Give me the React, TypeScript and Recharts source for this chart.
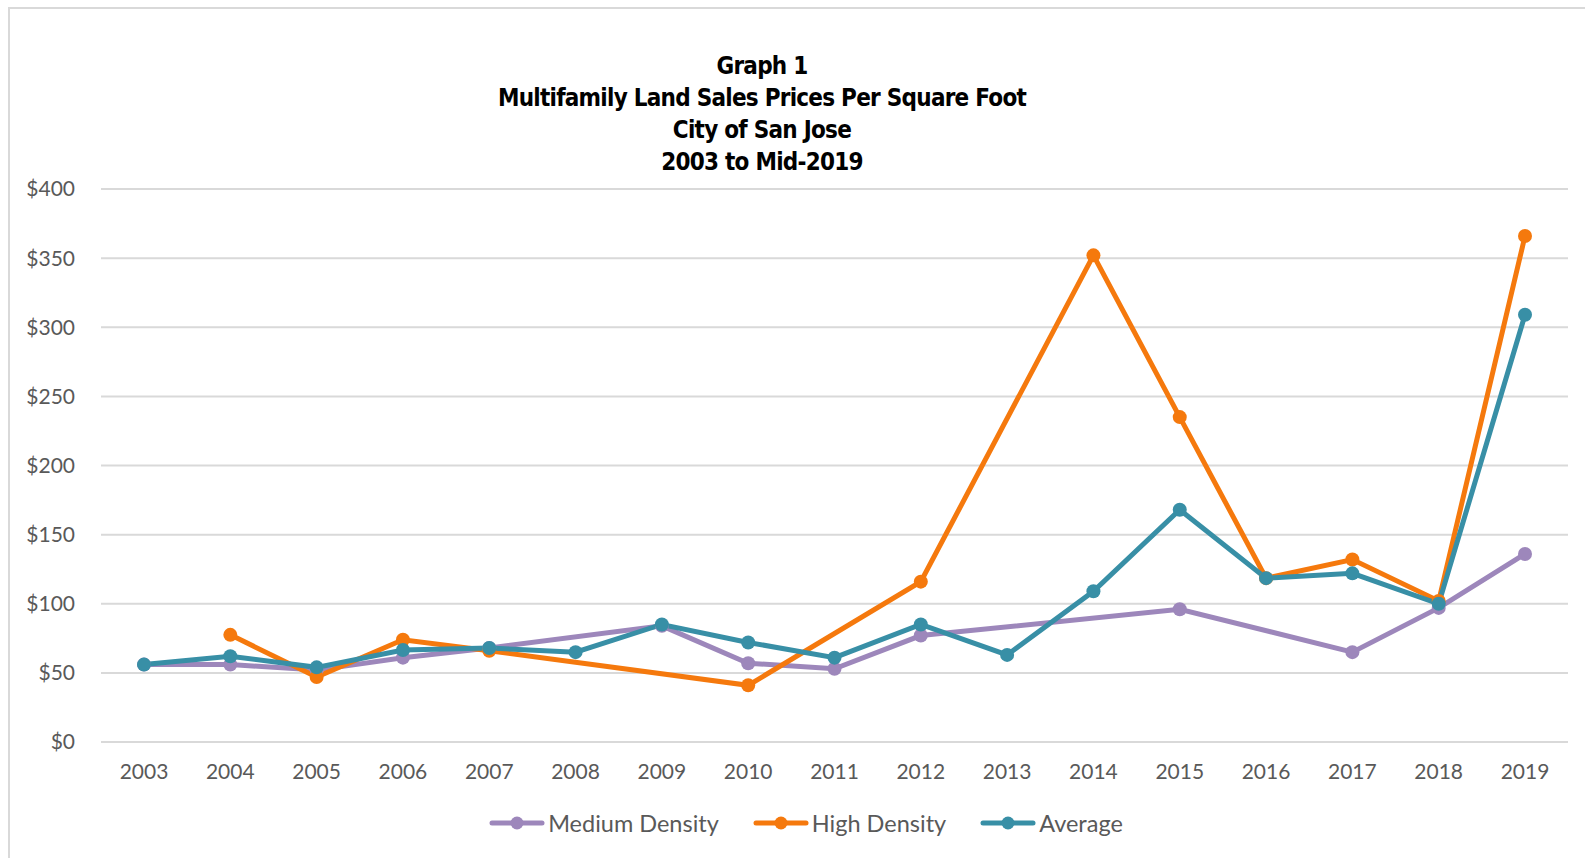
import React from 'react';
import { LineChart, Line, XAxis, YAxis, CartesianGrid, Legend } from 'recharts';

const years = ['2003', '2004', '2005', '2006', '2007', '2008', '2009', '2010', '2011', '2012', '2013', '2014', '2015', '2016', '2017', '2018', '2019'];
const mediumDensity = [56, 56, 52, 61, 68, null, 84, 57, 53, 77, null, null, 96, null, 65, 97, 136];
const highDensity = [null, 77.5, 47, 74, 66, null, null, 41, null, 116, null, 352, 235, 118.5, 132, 102, 366];
const average = [56, 62, 54, 66.5, 68, 65, 85, 72, 61, 85, 63, 109, 168, 118.5, 122, 100, 309];
const yTicks = [0, 50, 100, 150, 200, 250, 300, 350, 400];
const titleLines = ['Graph 1', 'Multifamily Land Sales Prices Per Square Foot', 'City of San Jose', '2003 to Mid-2019'];

const series = [
  { key: 'medium', name: 'Medium Density', color: '#9d87bb', values: mediumDensity },
  { key: 'high', name: 'High Density', color: '#f5790d', values: highDensity },
  { key: 'avg', name: 'Average', color: '#388fa6', values: average },
];

const data = years.map((year, i) => ({
  year,
  medium: mediumDensity[i],
  high: highDensity[i],
  avg: average[i],
}));

const tickFont = { fontFamily: 'Lato, "Open Sans", sans-serif', fontSize: 21, fill: '#595959' };

const LegendContent = () => (
  <div style={{ display: 'flex', justifyContent: 'center', paddingLeft: 78, fontFamily: 'Lato, "Open Sans", sans-serif', fontSize: 23.5, color: '#595959' }}>
    {series.map((s) => (
      <div key={s.key} style={{ display: 'flex', alignItems: 'center', marginRight: 34 }}>
        <svg width={56} height={16} style={{ marginRight: 3 }}>
          <line x1={3} y1={8} x2={53} y2={8} stroke={s.color} strokeWidth={5} strokeLinecap="round" />
          <circle cx={28} cy={8} r={6.5} fill={s.color} />
        </svg>
        <span>{s.name}</span>
      </div>
    ))}
  </div>
);

const App: React.FC = () => {
  return (
    <div style={{ position: 'relative', width: 1585, height: 858, overflow: 'hidden', background: '#fff' }}>
      <style>{'body{margin:0;overflow:hidden}'}</style>
      <div style={{ position: 'absolute', left: 8, top: 7, width: 1700, height: 1000, border: '2px solid #d9d9d9' }} />
      <div style={{ position: 'absolute', left: 362, top: 50, width: 800, textAlign: 'center', fontFamily: '"Liberation Sans Narrow", "DejaVu Sans Condensed", sans-serif', fontWeight: 'bold', fontSize: 24, letterSpacing: -0.75, lineHeight: '32px', color: '#000' }}>
        {titleLines.map((t) => (
          <div key={t}>{t}</div>
        ))}
      </div>
      <div style={{ position: 'absolute', left: 0, top: 0 }}>
        <LineChart width={1585} height={858} data={data} margin={{ top: 189, right: 17, left: 0, bottom: 36 }}>
          <CartesianGrid vertical={false} stroke="#d9d9d9" strokeWidth={2} />
          <XAxis
            dataKey="year"
            axisLine={{ stroke: '#d9d9d9', strokeWidth: 2 }}
            tickLine={false}
            tick={tickFont}
            tickMargin={16}
            height={40}
            padding={{ left: 43, right: 43 }}
            interval={0}
          />
          <YAxis
            domain={[0, 400]}
            ticks={yTicks}
            width={101}
            axisLine={false}
            tickLine={false}
            tick={tickFont}
            tickMargin={20}
            tickFormatter={(v) => `$${v}`}
          />
          <Legend
            verticalAlign="bottom"
            height={40}
            wrapperStyle={{ top: 809, bottom: 'auto' }}
            content={<LegendContent />}
          />
          {series.map((s) => (
            <Line
              key={s.key}
              dataKey={s.key}
              name={s.name}
              stroke={s.color}
              strokeWidth={5}
              dot={{ r: 7, fill: s.color, stroke: s.color, strokeWidth: 0 }}
              activeDot={false}
              connectNulls
              isAnimationActive={false}
            />
          ))}
        </LineChart>
      </div>
    </div>
  );
};

export default App;
